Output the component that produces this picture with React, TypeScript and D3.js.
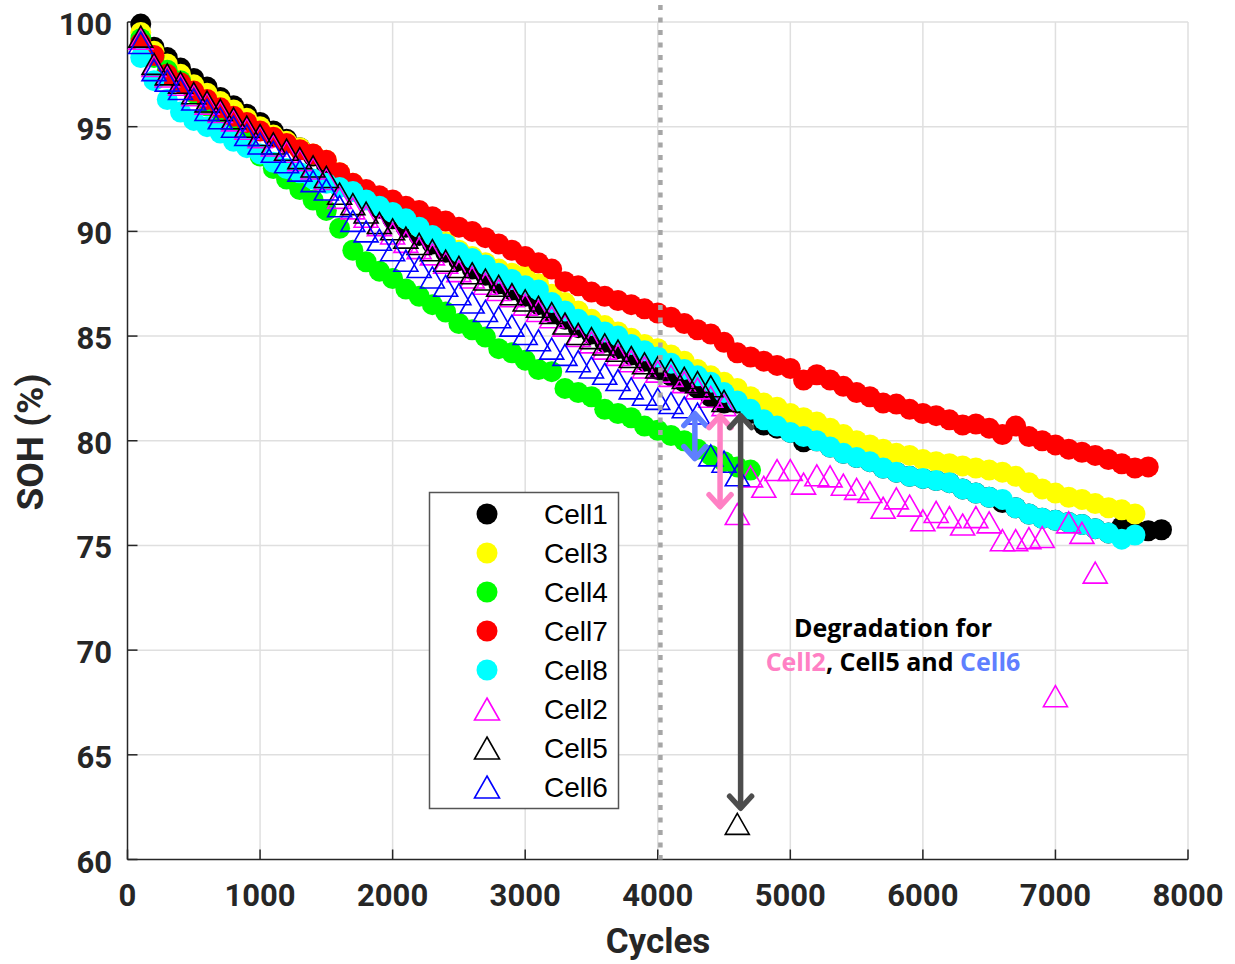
import React from "react";
import * as d3 from "d3";

const CYCLES = [
  100, 200, 300, 400, 500, 600, 700, 800, 900, 1000,
  1100, 1200, 1300, 1400, 1500, 1600, 1700, 1800, 1900, 2000,
  2100, 2200, 2300, 2400, 2500, 2600, 2700, 2800, 2900, 3000,
  3100, 3200, 3300, 3400, 3500, 3600, 3700, 3800, 3900, 4000,
  4100, 4200, 4300, 4400, 4500, 4600, 4700, 4800, 4900, 5000,
  5100, 5200, 5300, 5400, 5500, 5600, 5700, 5800, 5900, 6000,
  6100, 6200, 6300, 6400, 6500, 6600, 6700, 6800, 6900, 7000,
  7100, 7200, 7300, 7400, 7500, 7600, 7700, 7800,
];

const CELL1 = [
  99.9, 98.8, 98.3, 97.8, 97.3, 96.9, 96.4, 96.0, 95.6, 95.2,
  94.8, 94.4, 94.0, 93.6, 93.2, 92.7, 92.1, 91.6, 91.1, 90.6,
  90.2, 89.8, 89.4, 89.0, 88.6, 88.2, 87.9, 87.5, 87.2, 86.9,
  86.5, 86.1, 85.8, 85.4, 85.1, 84.7, 84.4, 84.1, 83.8, 83.4,
  83.1, 82.8, 82.5, 82.1, 81.8, 81.8, 81.3, 80.75, 80.6, 80.4,
  79.95, 80.0, 79.7, 79.4, 79.2, 79.0, 78.7, 78.5, 78.3, 78.2,
  78.1, 78.0, 77.7, 77.5, 77.3, 77.05, 76.8, 76.5, 76.3, 76.2,
  76.1, 76.0, 75.8, 75.6, 75.9, 75.75, 75.7, 75.75,
];

const CELL3 = [
  99.5, 98.6, 98.0, 97.5, 97.0, 96.6, 96.2, 95.8, 95.4, 95.0,
  94.6, 94.3, 94.0, 93.7, 93.4, 92.8, 92.3, 91.9, 91.4, 91.0,
  90.6, 90.2, 89.8, 89.5, 89.1, 88.8, 88.5, 88.2, 88.0, 87.9,
  87.5, 87.0, 86.6, 86.2, 85.8, 85.5, 85.2, 84.9, 84.6, 84.4,
  84.1, 83.8, 83.4, 83.1, 82.8, 82.5, 82.1, 81.8, 81.6, 81.3,
  81.1, 80.9, 80.6, 80.3, 80.0, 79.8, 79.6, 79.4, 79.3, 79.1,
  79.0, 78.9, 78.8, 78.7, 78.6, 78.5, 78.3, 78.0, 77.7, 77.5,
  77.3, 77.2, 77.0, 76.8, 76.7, 76.5,
];

const CELL4 = [
  99.2, 98.3, 97.7, 97.2, 96.6, 96.0, 95.5, 95.0, 94.4, 93.6,
  93.0, 92.5, 92.0, 91.5, 91.0, 90.15, 89.1, 88.55, 88.1, 87.75,
  87.25, 86.9, 86.5, 86.15, 85.6, 85.3, 84.95, 84.4, 84.2, 83.85,
  83.4, 83.3, 82.5, 82.3, 82.1, 81.5, 81.3, 81.1, 80.7, 80.5,
  80.25, 80.0, 79.6, 79.3, 79.0, 78.75, 78.6,
];

const CELL7 = [
  99.0, 98.4, 97.5, 97.1, 96.7, 96.3, 95.9, 95.5, 95.2, 94.8,
  94.5, 94.2, 93.9, 93.7, 93.4, 92.8, 92.3, 92.0, 91.7, 91.5,
  91.2, 91.0, 90.7, 90.5, 90.2, 90.0, 89.7, 89.4, 89.1, 88.8,
  88.5, 88.2, 87.6, 87.4, 87.1, 86.9, 86.7, 86.5, 86.3, 86.1,
  85.9, 85.6, 85.3, 85.1, 84.7, 84.2, 84.0, 83.8, 83.6, 83.45,
  82.9, 83.15, 82.9, 82.6, 82.3, 82.1, 81.8, 81.75, 81.5, 81.3,
  81.2, 81.0, 80.75, 80.8, 80.6, 80.3, 80.7, 80.2, 80.0, 79.8,
  79.6, 79.45, 79.3, 79.1, 78.9, 78.7, 78.75,
];

const CELL8 = [
  98.3, 97.2, 96.3, 95.7, 95.3, 95.0, 94.7, 94.3, 94.0, 93.7,
  93.3, 93.0, 92.8, 92.5, 92.3, 92.1, 91.9, 91.5, 91.2, 90.9,
  90.6, 90.2, 89.8, 89.4, 89.0, 88.7, 88.4, 88.0, 87.7, 87.4,
  87.2, 86.6, 86.2, 85.8, 85.5, 85.2, 85.0, 84.6, 84.3, 84.0,
  83.7, 83.4, 83.1, 82.8, 82.3, 81.9, 81.5, 81.0, 80.7, 80.4,
  80.2, 80.0, 79.7, 79.4, 79.2, 79.0, 78.7, 78.5, 78.3, 78.2,
  78.1, 78.0, 77.7, 77.5, 77.3, 77.2, 76.8, 76.5, 76.3, 76.2,
  76.1, 76.0, 75.8, 75.6, 75.3, 75.5,
];

const CELL2 = [
  99.2, 97.9, 97.4, 97.0, 96.5, 96.1, 95.7, 95.3, 94.9, 94.5,
  94.1, 93.8, 93.4, 93.0, 92.5, 91.6, 91.1, 90.7, 90.3, 89.9,
  89.5, 89.2, 88.9, 88.5, 88.1, 87.8, 87.5, 87.2, 86.9, 86.5,
  86.2, 85.9, 85.5, 85.0, 84.7, 84.4, 84.1, 83.8, 83.5, 83.3,
  83.1, 82.8, 82.5, 82.1, 81.7, 76.5, 78.3, 77.8, 78.6, 78.6,
  77.95, 78.35, 78.3, 77.9, 77.7, 77.55, 76.8, 77.25, 76.9, 76.2,
  76.6, 76.35, 76.0, 76.35, 76.1, 75.25, 75.25, 75.35, 75.4, 67.8,
  76.1, 75.6, 73.7,
];

const CELL5 = [
  99.3, 98.0, 97.5, 97.1, 96.6, 96.2, 95.8, 95.4, 95.0, 94.6,
  94.2, 93.9, 93.5, 93.1, 92.6, 91.8, 91.3, 90.9, 90.4, 90.1,
  89.7, 89.4, 89.1, 88.6, 88.3, 88.0, 87.7, 87.4, 87.0, 86.7,
  86.4, 86.1, 85.6, 85.1, 84.9, 84.6, 84.3, 84.0, 83.7, 83.5,
  83.4, 83.0, 82.8, 82.6, 81.9, 61.7,
];

const CELL6 = [
  99.0, 97.7, 97.2, 96.8, 96.3, 95.8, 95.4, 95.0, 94.6, 94.2,
  93.8, 93.3, 92.9, 92.4, 92.0, 91.2, 90.5, 90.0, 89.6, 89.1,
  88.6, 88.3, 87.8, 87.4, 87.0, 86.6, 86.2, 85.9, 85.5, 85.1,
  84.8, 84.4, 84.1, 83.8, 83.5, 83.2, 82.9, 82.5, 82.2, 82.0,
  81.8, 81.6, 81.3, 79.3, 79.0, 78.35,
];

const X_TICKS = [0, 1000, 2000, 3000, 4000, 5000, 6000, 7000, 8000];
const Y_TICKS = [60, 65, 70, 75, 80, 85, 90, 95, 100];

type Series = { name: string; values: number[]; color: string; shape: "circle" | "triangle" };

const CIRCLE_SERIES: Series[] = [
  { name: "Cell1", values: CELL1, color: "#000000", shape: "circle" },
  { name: "Cell3", values: CELL3, color: "#ffff00", shape: "circle" },
  { name: "Cell4", values: CELL4, color: "#00ff00", shape: "circle" },
  { name: "Cell7", values: CELL7, color: "#ff0000", shape: "circle" },
  { name: "Cell8", values: CELL8, color: "#00ffff", shape: "circle" },
];
const TRIANGLE_SERIES: Series[] = [
  { name: "Cell2", values: CELL2, color: "#ff00ff", shape: "triangle" },
  { name: "Cell5", values: CELL5, color: "#000000", shape: "triangle" },
  { name: "Cell6", values: CELL6, color: "#0000ff", shape: "triangle" },
];
const ALL_SERIES = [...CIRCLE_SERIES, ...TRIANGLE_SERIES];

// annotation arrows: [cycle, top SOH, bottom SOH, colour]
const ARROWS: [number, number, number, string][] = [
  [4280, 81.35, 79.1, "#5f7fff"],
  [4470, 81.25, 76.8, "#ff80c4"],
  [4625, 81.25, 62.4, "#4d4d4d"],
];
const DIVIDER_CYCLE = 4020;

const W = 1235;
const H = 964;
const L = 127.5, R = 1188, T = 22, B = 859.5;
const AX = "#262626";
const TICK_FONT = "Roboto, 'Liberation Sans', Arial, sans-serif";

const x = d3.scaleLinear().domain([0, 8000]).range([L, R]);
const y = d3.scaleLinear().domain([60, 100]).range([B, T]);

const R_CIRCLE = 10.5;
const TRI_W = 24, TRI_H = 21;
const triPath = `M0,${-TRI_H / 2}L${TRI_W / 2},${TRI_H / 2}L${-TRI_W / 2},${TRI_H / 2}Z`;

function Marker({ s, cx, cy }: { s: Series; cx: number; cy: number }) {
  if (s.shape === "circle") return <circle cx={cx} cy={cy} r={R_CIRCLE} fill={s.color} />;
  return (
    <path d={triPath} transform={`translate(${cx},${cy})`} fill="none" stroke={s.color} strokeWidth={1.6} />
  );
}

function Arrow({ cx, y1, y2, color }: { cx: number; y1: number; y2: number; color: string }) {
  const hw = 11, hh = 13;
  return (
    <g stroke={color} strokeWidth={5.5} fill="none" strokeLinecap="round" strokeLinejoin="round">
      <line x1={cx} y1={y1 + 2} x2={cx} y2={y2 - 2} />
      <polyline points={`${cx - hw},${y1 + hh} ${cx},${y1 + 1} ${cx + hw},${y1 + hh}`} />
      <polyline points={`${cx - hw},${y2 - hh} ${cx},${y2 - 1} ${cx + hw},${y2 - hh}`} />
    </g>
  );
}

export default function App() {
  const legendX = 429.5, legendY = 492.5, legendW = 189, legendH = 316;
  return (
    <svg
      width={W}
      height={H}
      viewBox={`0 0 ${W} ${H}`}
      style={{ position: "absolute", left: 0, top: 0, background: "#fff" }}
    >
      <rect x={0} y={0} width={W} height={H} fill="#fff" />
      {/* grid */}
      <g stroke="#dfdfdf" strokeWidth={1.5}>
        {X_TICKS.slice(1).map((t) => (
          <line key={"gx" + t} x1={x(t)} x2={x(t)} y1={T} y2={B} />
        ))}
        {Y_TICKS.slice(1).map((t) => (
          <line key={"gy" + t} x1={L} x2={R} y1={y(t)} y2={y(t)} />
        ))}
      </g>
      {/* axes */}
      <g stroke={AX} strokeWidth={1.5}>
        <line x1={L} x2={R} y1={B} y2={B} />
        <line x1={L} x2={L} y1={T} y2={B} />
        {X_TICKS.map((t) => (
          <line key={"tx" + t} x1={x(t)} x2={x(t)} y1={B} y2={B - 10} />
        ))}
        {Y_TICKS.map((t) => (
          <line key={"ty" + t} x1={L} x2={L + 10} y1={y(t)} y2={y(t)} />
        ))}
      </g>
      <g fontFamily={TICK_FONT} fontWeight="bold" fontSize={31} fill={AX}>
        {X_TICKS.map((t) => (
          <text key={"lx" + t} x={x(t)} y={906} textAnchor="middle">
            {t}
          </text>
        ))}
        {Y_TICKS.map((t) => (
          <text key={"ly" + t} x={112} y={y(t) + 13} textAnchor="end">
            {t}
          </text>
        ))}
      </g>
      <text x={658} y={953} textAnchor="middle" fontFamily={TICK_FONT} fontWeight="bold" fontSize={35} fill={AX}>
        Cycles
      </text>
      <text
        transform={`translate(43,442) rotate(-90)`}
        textAnchor="middle"
        fontFamily={TICK_FONT}
        fontWeight="bold"
        fontSize={37}
        fill={AX}
      >
        SOH (%)
      </text>

      {/* data */}
      {ALL_SERIES.map((s) => (
        <g key={s.name}>
          {s.values.map((v, i) => (
            <Marker key={i} s={s} cx={x(CYCLES[i])} cy={y(v)} />
          ))}
        </g>
      ))}

      {/* dotted divider */}
      <line
        x1={x(DIVIDER_CYCLE)}
        x2={x(DIVIDER_CYCLE)}
        y1={5}
        y2={B}
        stroke="#a6a6a6"
        strokeWidth={4.5}
        strokeDasharray="5 7.5"
      />

      {/* arrows */}
      {ARROWS.map(([c, top, bot, col]) => (
        <Arrow key={c} cx={x(c)} y1={y(top)} y2={y(bot)} color={col} />
      ))}

      {/* annotation text */}
      <g fontFamily="'Open Sans', sans-serif" fontWeight={700} fontSize={25} textAnchor="middle">
        <text x={893} y={637} fill="#000">
          Degradation for
        </text>
        <text x={893} y={671}>
          <tspan fill="#ff80c4">Cell2</tspan>
          <tspan fill="#000">, Cell5 and </tspan>
          <tspan fill="#5f7fff">Cell6</tspan>
        </text>
      </g>

      {/* legend */}
      <rect x={legendX} y={legendY} width={legendW} height={legendH} fill="#fff" stroke="#555" strokeWidth={1.5} />
      {ALL_SERIES.map((s, i) => {
        const cy = 514 + i * 39;
        return (
          <g key={"lg" + s.name}>
            {s.shape === "circle" ? (
              <circle cx={487} cy={cy} r={10.5} fill={s.color} />
            ) : (
              <path
                d={`M0,-11L12.5,11L-12.5,11Z`}
                transform={`translate(487,${cy})`}
                fill="none"
                stroke={s.color}
                strokeWidth={1.6}
              />
            )}
            <text
              x={544}
              y={cy + 10}
              fontFamily="'Liberation Sans', Arial, sans-serif"
              fontSize={28}
              fill="#000"
            >
              {s.name}
            </text>
          </g>
        );
      })}
    </svg>
  );
}
